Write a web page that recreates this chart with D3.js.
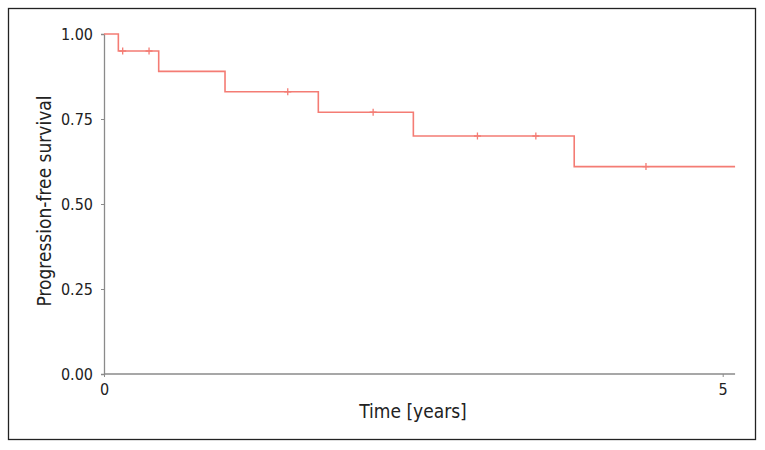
<!DOCTYPE html>
<html><head><meta charset="utf-8">
<script src="https://cdn.jsdelivr.net/npm/d3@7"></script>
<style>
body{margin:0;background:#fff;}
svg{display:block;}
</style></head>
<body><svg id="c" width="765" height="450"></svg>
<script>
// Kaplan-Meier step data (time in years, survival)
const stepTimes = [0, 0.116, 0.442, 0.978, 1.732, 2.50, 3.80];
const stepSurv  = [1.00, 0.95, 0.89, 0.83, 0.77, 0.70, 0.61];
const endTime = 5.10;
const censorTimes = [0.151, 0.364, 1.485, 2.175, 3.018, 3.49, 4.38];
const yTicks = [0, 0.25, 0.5, 0.75, 1.0];
const xTicks = [0, 5];

const svg = d3.select("#c");
svg.append("rect").attr("x", 8.5).attr("y", 8.5).attr("width", 747).attr("height", 431)
  .attr("fill", "#fff").attr("stroke", "#222").attr("stroke-width", 1.3);

const x = d3.scaleLinear().domain([0, 5]).range([104, 722.7]);
const y = d3.scaleLinear().domain([0, 1]).range([374, 34]);

const axisColor = "#8a8a8a";
const tickFont = "'Liberation Sans Narrow', 'DejaVu Sans Condensed', Roboto, sans-serif";

// y axis
const ya = svg.append("g").attr("transform", "translate(104,0)")
  .call(d3.axisLeft(y).tickValues(yTicks).tickFormat(d3.format(".2f")).tickSize(3).tickPadding(8));
ya.select(".domain").attr("stroke", axisColor).attr("stroke-width", 1.3);
ya.selectAll(".tick line").attr("stroke", axisColor);
ya.selectAll(".tick text").attr("fill", "#222").style("font-family", tickFont).style("font-size", "16px");

// x axis
const xa = svg.append("g").attr("transform", "translate(0,374)")
  .call(d3.axisBottom(x).tickValues(xTicks).tickFormat(d3.format("d")).tickSize(3).tickPadding(7));
xa.select(".domain").attr("d", `M104,0H${x(endTime)}`).attr("stroke", axisColor).attr("stroke-width", 1.3);
xa.selectAll(".tick line").attr("stroke", axisColor);
xa.selectAll(".tick text").attr("fill", "#222").style("font-family", tickFont).style("font-size", "16px");

// titles
const titleFont = "'Liberation Sans Narrow', 'DejaVu Sans Condensed', 'Roboto', sans-serif";
svg.append("text").attr("x", 413).attr("y", 418).attr("text-anchor", "middle")
  .style("font-family", titleFont).style("font-size", "19px").attr("fill", "#222").text("Time [years]");
svg.append("text").attr("transform", "translate(51,201) rotate(-90)").attr("text-anchor", "middle")
  .style("font-family", titleFont).style("font-size", "19px").attr("fill", "#222").text("Progression-free survival");

// step curve
const pts = stepTimes.map((t, i) => [t, stepSurv[i]]);
pts.push([endTime, stepSurv[stepSurv.length - 1]]);
const line = d3.line().x(d => x(d[0])).y(d => y(d[1])).curve(d3.curveStepAfter);
const col = "#f47c74";
svg.append("path").datum(pts).attr("d", line).attr("fill", "none")
  .attr("stroke", col).attr("stroke-width", 1.6);

// censor marks
function survAt(t) {
  let s = 1;
  for (let i = 0; i < stepTimes.length; i++) if (stepTimes[i] <= t) s = stepSurv[i];
  return s;
}
const cg = svg.append("g");
censorTimes.forEach(t => {
  const cx = x(t), cy = y(survAt(t));
  cg.append("path").attr("d", `M${cx-3.5},${cy}H${cx+3.5}M${cx},${cy-3.5}V${cy+3.5}`)
    .attr("stroke", col).attr("stroke-width", 1.3);
});
</script></body></html>
